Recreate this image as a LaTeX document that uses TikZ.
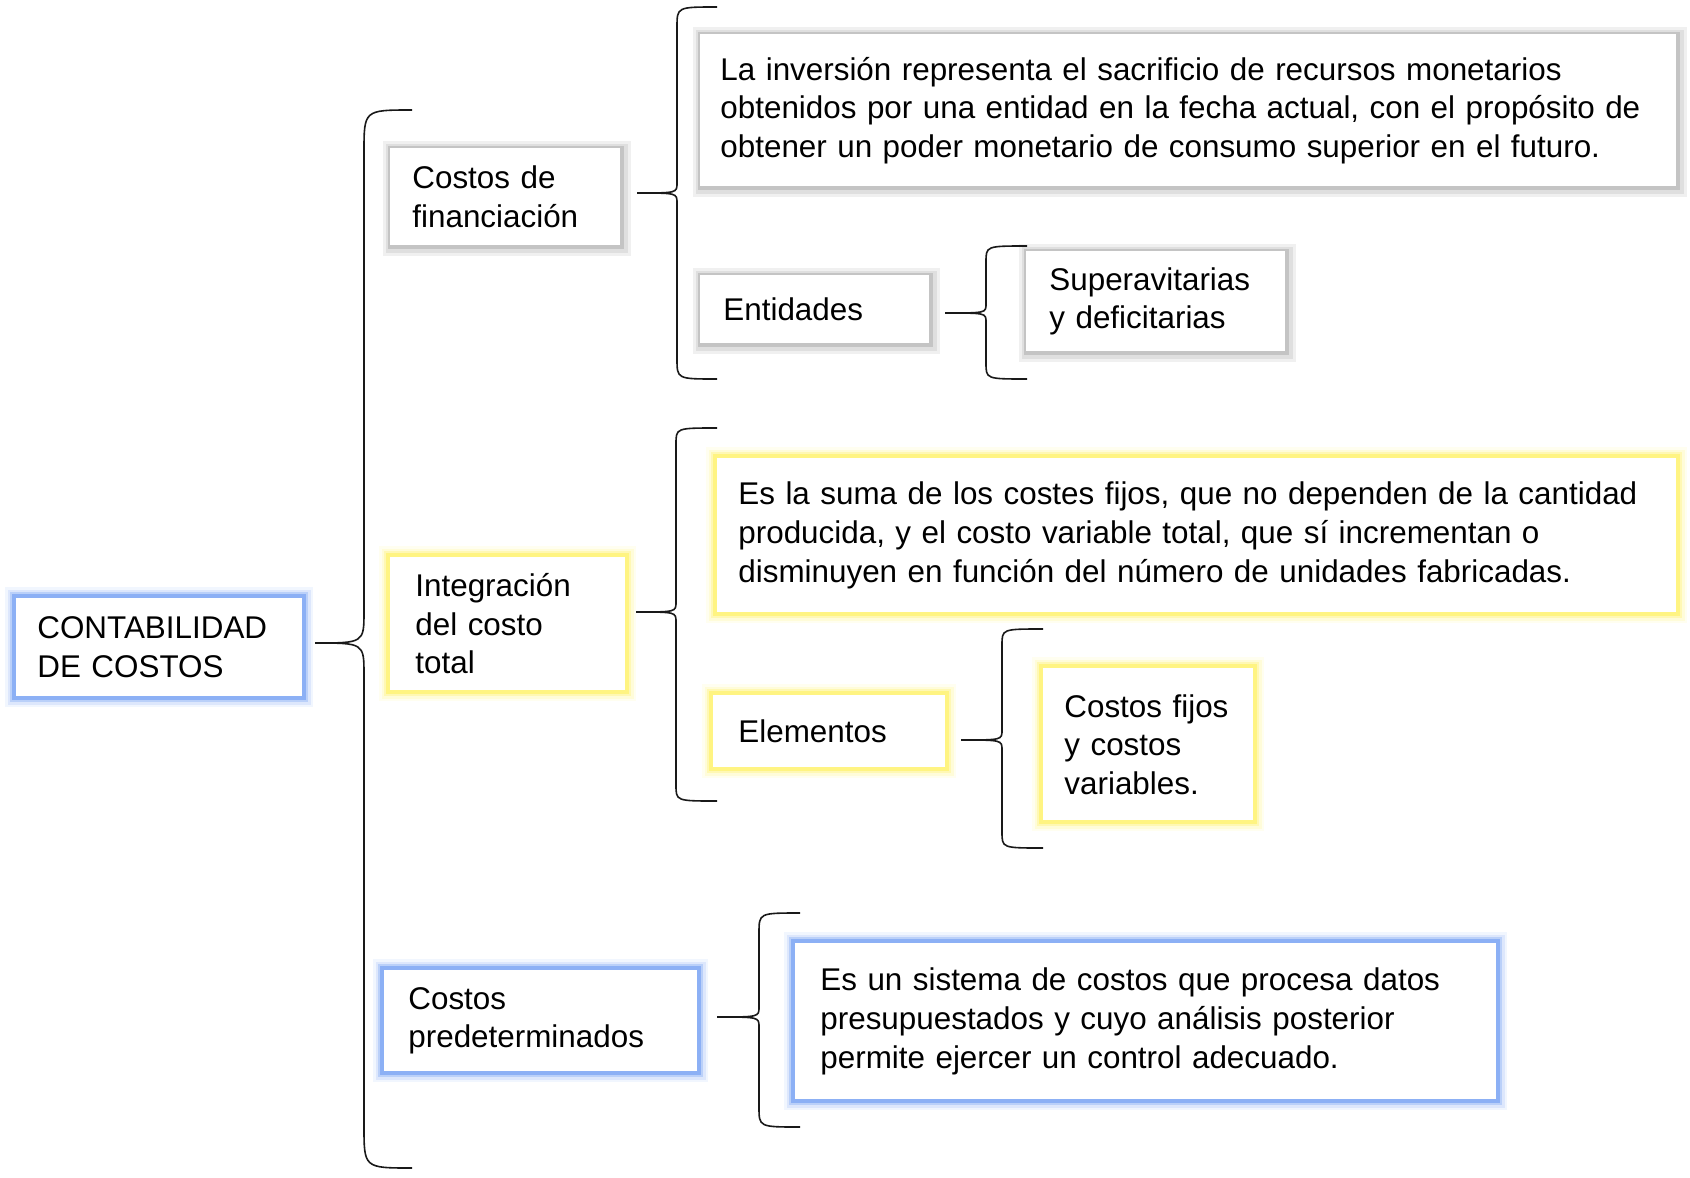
\documentclass[tikz,border=0pt]{standalone}
\usepackage{fontspec}
\setmainfont{Liberation Sans}
\usepackage{xcolor}
\definecolor{azulbrillo}{RGB}{140,176,245}
\definecolor{amarillobrillo}{RGB}{255,244,130}
\definecolor{grissombra}{RGB}{196,196,196}

% curly bracket: x, top, bottom, tip x, middle x, middle y, corner, cusp
\newcommand{\llave}[8]{%
  \draw[llavelinea] (#4,#2) .. controls (#1,#2) .. (#1,#2+#7) -- (#1,#6-#8)
    .. controls (#1,#6) .. (#5,#6) .. controls (#1,#6) .. (#1,#6+#8)
    -- (#1,#3-#7) .. controls (#1,#3) .. (#4,#3);}

\begin{document}
\begin{tikzpicture}[x=0.5pt,y=-0.5pt,
    caja/.style={fill=white, anchor=north west, align=left, inner ysep=0pt,
      font=\fontsize{15.7}{19.3}\selectfont},
    brillo/.style={preaction={draw=#1!12, line width=11pt},
      preaction={draw=#1!30, line width=8.5pt},
      preaction={draw=#1!60, line width=6pt},
      preaction={draw=#1, line width=4pt}},
    sombra/.style={preaction={draw=grissombra!25, line width=9pt, transform canvas={shift={(1pt,-1pt)}}},
      preaction={draw=grissombra!55, line width=6pt, transform canvas={shift={(0.8pt,-0.8pt)}}},
      preaction={draw=grissombra, line width=3pt, transform canvas={shift={(0.5pt,-0.5pt)}}}},
    llavelinea/.style={line width=0.8pt, black!90}]
    \useasboundingbox (0,0) rectangle (1690,1177);

    % boxes
    \node[caja, brillo=azulbrillo, minimum width=143pt, minimum height=49pt, inner xsep=10.5pt, text width=122pt]
      (raiz) at (16,598) {CONTABILIDAD\\DE COSTOS};
    \node[caja, sombra, minimum width=115pt, minimum height=48.5pt, inner xsep=11pt, text width=93pt]
      (financ) at (390,148) {Costos de\\financiación};
    \node[caja, sombra, minimum width=488pt, minimum height=76pt, inner xsep=10pt, text width=468pt]
      (inversion) at (700,34) {La inversión representa el sacrificio de recursos monetarios\\obtenidos por una entidad en la fecha actual, con el propósito de\\obtener un poder monetario de consumo superior en el futuro.};
    \node[caja, sombra, minimum width=114.5pt, minimum height=34pt, inner xsep=11.5pt, text width=91.5pt]
      (entidades) at (700,275) {Entidades};
    \node[caja, sombra, minimum width=129.5pt, minimum height=50pt, inner xsep=11.5pt, text width=106.5pt]
      (superav) at (1026,251) {Superavitarias\\y deficitarias};
    \node[caja, brillo=amarillobrillo, minimum width=117.5pt, minimum height=66.5pt, inner xsep=12.5pt, text width=92.5pt]
      (integ) at (390,557) {Integración\\del costo\\total};
    \node[caja, brillo=amarillobrillo, minimum width=479.5pt, minimum height=77pt, inner xsep=10.5pt, text width=458.5pt]
      (suma) at (717,458) {Es la suma de los costes fijos, que no dependen de la cantidad\\producida, y el costo variable total, que sí incrementan o\\disminuyen en función del número de unidades fabricadas.};
    \node[caja, brillo=amarillobrillo, minimum width=116pt, minimum height=36pt, inner xsep=12.5pt, text width=91pt]
      (elementos) at (713,695) {Elementos};
    \node[caja, brillo=amarillobrillo, minimum width=105pt, minimum height=76pt, inner xsep=10.5pt, text width=84pt]
      (fijos) at (1043,668) {Costos fijos\\y costos\\variables.};
    \node[caja, brillo=azulbrillo, minimum width=156.5pt, minimum height=50.5pt, inner xsep=12pt, text width=132.5pt]
      (predet) at (384,970) {Costos\\predeterminados};
    \node[caja, brillo=azulbrillo, minimum width=350.5pt, minimum height=78pt, inner xsep=12.5pt, text width=325.5pt]
      (sistema) at (795,943) {Es un sistema de costos que procesa datos\\presupuestados y cuyo análisis posterior\\permite ejercer un control adecuado.};

    % braces
    \llave{364}{110}{1168}{412}{315}{643}{42}{32}
    \llave{677}{7}{379}{717}{637}{193}{20}{10}
    \llave{986}{246}{379}{1027}{945}{313}{16}{9}
    \llave{676}{428}{801}{717}{636}{612}{16}{10}
    \llave{1002}{629}{848}{1043}{961}{740}{16}{10}
    \llave{759}{913}{1127}{800}{717}{1017}{20}{10}

\end{tikzpicture}
\end{document}
